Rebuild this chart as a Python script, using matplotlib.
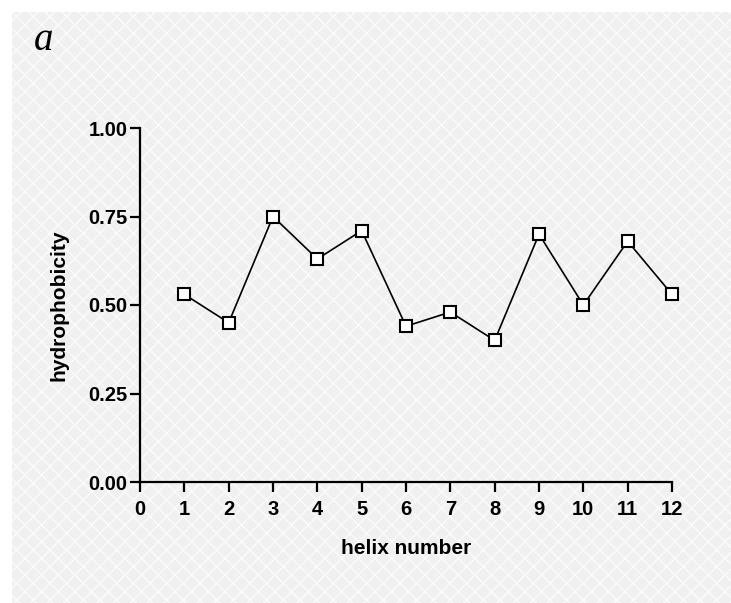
import matplotlib
matplotlib.use("Agg")
import matplotlib.pyplot as plt
from matplotlib.patches import Rectangle

helix = [1, 2, 3, 4, 5, 6, 7, 8, 9, 10, 11, 12]
hydrophobicity = [0.53, 0.45, 0.75, 0.63, 0.71, 0.44, 0.48, 0.40, 0.70, 0.50, 0.68, 0.53]
xticks = list(range(0, 13))
yticks = [0.00, 0.25, 0.50, 0.75, 1.00]

plt.rcParams['font.family'] = ['Liberation Sans', 'DejaVu Sans']

fig = plt.figure(figsize=(7.31, 6.03), dpi=100)
fig.patch.set_facecolor('white')
# textured grey panel behind the plot
bg = Rectangle((12 / 731, 0), 1, 1 - 12 / 603, transform=fig.transFigure,
               facecolor='#f0f0f0', edgecolor='#fbfbfb', hatch='xx',
               linewidth=0, zorder=-10)
fig.patches.append(bg)

ax = fig.add_axes([140 / 731, 1 - 482 / 603, 532 / 731, 354 / 603])
ax.patch.set_alpha(0)

ax.plot(helix, hydrophobicity, color='black', lw=1.2, marker='s', ms=8.5,
        mfc='white', mec='black', mew=1.5, clip_on=False)

ax.set_xlim(0, 12)
ax.set_ylim(0, 1.0)
ax.set_xticks(xticks)
ax.set_yticks(yticks)
ax.set_yticklabels([f"{v:.2f}" for v in yticks])
for s in ['top', 'right']:
    ax.spines[s].set_visible(False)
for s in ['left', 'bottom']:
    ax.spines[s].set_linewidth(1.6)
ax.tick_params(direction='out', length=7, width=1.6, labelsize=14.5)
ax.tick_params(axis='x', pad=6)
ax.tick_params(axis='y', pad=2)
for lbl in ax.get_xticklabels() + ax.get_yticklabels():
    lbl.set_fontweight('bold')

ax.set_xlabel("helix number", fontsize=15, fontweight='bold', labelpad=14)
ax.set_ylabel("hydrophobicity", fontsize=15, fontweight='bold', labelpad=14)

fig.text(34 / 731, 1 - 40 / 603, "a", family='Liberation Serif', style='italic',
         fontsize=28, va='center', ha='left')

fig.savefig("out.png", dpi=100)
